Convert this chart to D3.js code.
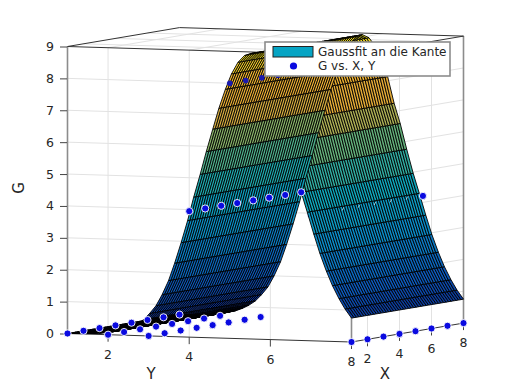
<!DOCTYPE html>
<html>
<head>
<meta charset="utf-8">
<script src="https://cdnjs.cloudflare.com/ajax/libs/d3/7.8.5/d3.min.js"></script>
<style>
  html, body { margin: 0; padding: 0; background: #fff; }
  svg { display: block; }
  text { font-family: "DejaVu Sans", sans-serif; fill: #262626; }
</style>
</head>
<body>
<svg id="chart" width="512" height="384"></svg>
<script>
// --- Data ---
const meshX = [1,1.16,1.31,1.47,1.62,1.78,1.93,2.09,2.24,2.4,2.56,2.71,2.87,3.02,3.18,3.33,3.49,3.64,3.8,3.96,4.11,4.27,4.42,4.58,4.73,4.89,5.04,5.2,5.36,5.51,5.67,5.82,5.98,6.13,6.29,6.44,6.6,6.76,6.91,7.07,7.22,7.38,7.53,7.69,7.84,8];
const meshY = [1,1.16,1.31,1.47,1.62,1.78,1.93,2.09,2.24,2.4,2.56,2.71,2.87,3.02,3.18,3.33,3.49,3.64,3.8,3.96,4.11,4.27,4.42,4.58,4.73,4.89,5.04,5.2,5.36,5.51,5.67,5.82,5.98,6.13,6.29,6.44,6.6,6.76,6.91,7.07,7.22,7.38,7.53,7.69,7.84,8];
// fitted height along Y, the ridge does not change along X
const meshG = [0,0.005,0.01,0.015,0.025,0.04,0.06,0.09,0.13,0.18,0.26,0.36,0.5,0.7,0.95,1.3,1.75,2.3,2.95,3.65,4.39,5.11,5.83,6.54,7.2,7.8,8.29,8.66,8.88,8.95,8.86,8.61,8.23,7.66,6.83,6.2,5.4,4.65,4.03,3.35,2.75,2.2,1.75,1.35,1.03,0.75];

const pointX = [1,2,3,4,5,6,7,8];
const pointY = [1,2,3,4,5,6,7,8];
const pointG = [0,0,0,3.95,8,8,3.95,0];

const gTicks = [0,1,2,3,4,5,6,7,8,9];
const yTicks = [2,4,6,8];
const xTicks = [2,4,6,8];
const legendLabels = ["Gaussfit an die Kante", "G vs. X, Y"];

const colorStops = [0,1.5,3,4.5,6,7,8,9];
const colorValues = ["#0a1470","#0c56b8","#0a8ac8","#0ea8b8","#70b070","#e0a838","#eeb030","#f0e820"];

// --- Scales, the box is a simple parallel projection ---
const xToPx = d3.scaleLinear().domain([1,8]).range([0,112]);
const xToPy = d3.scaleLinear().domain([1,8]).range([0,-18.9]);
const yToPx = d3.scaleLinear().domain([1,8]).range([67.5,351.5]);
const yToPy = d3.scaleLinear().domain([1,8]).range([333.5,342]);
const gToPy = d3.scaleLinear().domain([0,9]).range([0,-287]);
const color = d3.scaleLinear().domain(colorStops).range(colorValues);

function project(x, y, g) {
    return [xToPx(x) + yToPx(y), xToPy(x) + yToPy(y) + gToPy(g)];
}
const line = d3.line();

const svg = d3.select("#chart");

// --- Grid on the three far planes ---
const grid = svg.append("g").attr("fill", "none").attr("stroke", "#e2e2e2").attr("stroke-width", 1);
gTicks.slice(1, -1).forEach(g => {
    grid.append("path").attr("d", line([project(1,1,g), project(1,8,g)]));
    grid.append("path").attr("d", line([project(1,8,g), project(8,8,g)]));
});
yTicks.slice(0, -1).forEach(y => {
    grid.append("path").attr("d", line([project(1,y,0), project(1,y,9)]));
    grid.append("path").attr("d", line([project(1,y,9), project(8,y,9)]));
});
xTicks.slice(0, -1).forEach(x => {
    grid.append("path").attr("d", line([project(x,8,0), project(x,8,9)]));
    grid.append("path").attr("d", line([project(x,1,9), project(x,8,9)]));
});

// --- Box edges ---
const box = svg.append("g").attr("fill", "none");
[[1,1,0,1,1,9],[1,8,0,1,8,9],[8,8,0,8,8,9]].forEach(e => {
    box.append("path").attr("stroke", "#8c8c8c").attr("stroke-width", 1.6)
        .attr("d", line([project(e[0],e[1],e[2]), project(e[3],e[4],e[5])]));
});
[[1,1,0,1,8,0],[1,8,0,8,8,0],[1,1,9,1,8,9],[1,1,9,8,1,9],[8,1,9,8,8,9],[1,8,9,8,8,9]].forEach(e => {
    box.append("path").attr("stroke", "#333").attr("stroke-width", 1)
        .attr("d", line([project(e[0],e[1],e[2]), project(e[3],e[4],e[5])]));
});

// --- Ticks and labels ---
const gAxis = d3.axisLeft(d3.scaleLinear().domain([0,9]).range([333.5,46.5])).tickValues(gTicks).tickSize(7).tickPadding(6);
svg.append("g").attr("transform", "translate(67,0)").call(gAxis)
    .call(a => a.select(".domain").remove())
    .call(a => a.selectAll("line").attr("stroke", "#444"))
    .call(a => a.selectAll("text").attr("font-size", 12.5).style("fill", "#262626"));

const ticks = svg.append("g");
yTicks.forEach(y => {
    const p = project(1,y,0);
    ticks.append("line").attr("x1", p[0]).attr("x2", p[0]).attr("y1", p[1]).attr("y2", p[1] + 7).attr("stroke", "#444");
    ticks.append("text").attr("x", p[0]).attr("y", p[1] + 24).attr("text-anchor", "middle").attr("font-size", 12.5).text(y);
});
xTicks.forEach(x => {
    const p = project(x,8,0);
    ticks.append("line").attr("x1", p[0]).attr("x2", p[0]).attr("y1", p[1]).attr("y2", p[1] + 7).attr("stroke", "#444");
    ticks.append("text").attr("x", p[0]).attr("y", p[1] + 24).attr("text-anchor", "middle").attr("font-size", 12.5).text(x);
});

svg.append("text").attr("x", 151).attr("y", 379).attr("text-anchor", "middle").attr("font-size", 15).text("Y");
svg.append("text").attr("x", 385).attr("y", 379).attr("text-anchor", "middle").attr("font-size", 15).text("X");
svg.append("text").attr("transform", "translate(24,188) rotate(-90)").attr("text-anchor", "middle").attr("font-size", 15).text("G");

// --- Points that end up behind the surface go in first ---
const points = [];
pointY.forEach((y, i) => pointX.forEach(x => points.push({x: x, y: y, g: pointG[i]})));
const isHidden = d => d.y === 6 || (d.y === 7 && d.x < 8);

function drawPoints(parent, rows) {
    parent.selectAll("circle").data(rows).join("circle")
        .attr("cx", d => project(d.x,d.y,d.g)[0])
        .attr("cy", d => project(d.x,d.y,d.g)[1])
        .attr("r", d => d.y === 5 ? 2.8 : 3.6)
        .attr("fill", d => d.y === 5 ? "#1a1ab0" : "#0a0ae0")
        .attr("stroke", d => d.y === 5 ? "none" : "#fff")
        .attr("stroke-width", 0.9);
}
drawPoints(svg.append("g"), points.filter(isHidden));

// --- Surface, far side of the ridge first ---
const quads = [];
d3.range(meshY.length - 2, -1, -1).forEach(j => {
    d3.range(meshX.length - 1).forEach(i => {
        quads.push({
            g: (meshG[j] + meshG[j+1]) / 2,
            pts: [
                project(meshX[i], meshY[j], meshG[j]),
                project(meshX[i+1], meshY[j], meshG[j]),
                project(meshX[i+1], meshY[j+1], meshG[j+1]),
                project(meshX[i], meshY[j+1], meshG[j+1])
            ]
        });
    });
});
svg.append("g").selectAll("path").data(quads).join("path")
    .attr("d", d => line(d.pts) + "Z")
    .attr("fill", d => color(d.g))
    .attr("stroke", "#000")
    .attr("stroke-width", 0.9);

// small white leftovers of the hidden row poking through the surface
svg.append("g").selectAll("line").data(points.filter(d => d.y === 7 && d.x > 2 && d.x < 8)).join("line")
    .attr("x1", d => project(d.x,d.y,d.g)[0] - 0.8)
    .attr("x2", d => project(d.x,d.y,d.g)[0] + 0.8)
    .attr("y1", d => project(d.x,d.y,d.g)[1] + 1)
    .attr("y2", d => project(d.x,d.y,d.g)[1] - 2)
    .attr("stroke", "#fff").attr("stroke-width", 0.8).attr("opacity", 0.8);

drawPoints(svg.append("g"), points.filter(d => !isHidden(d)));

// --- Legend ---
const legend = svg.append("g");
legend.append("rect").attr("x", 265).attr("y", 42).attr("width", 185).attr("height", 34)
    .attr("fill", "#fff").attr("stroke", "#8c8c8c").attr("stroke-width", 1.6);
legend.append("rect").attr("x", 273).attr("y", 46.5).attr("width", 40).attr("height", 10.5)
    .attr("fill", "#06a4c4").attr("stroke", "#222").attr("stroke-width", 1);
legend.append("circle").attr("cx", 293.5).attr("cy", 66).attr("r", 3.6).attr("fill", "#0a0ae0");
legend.selectAll("text").data(legendLabels).join("text")
    .attr("x", 318).attr("y", (d, i) => 55.5 + i * 14)
    .attr("font-size", 12).text(d => d);
</script>
</body>
</html>
